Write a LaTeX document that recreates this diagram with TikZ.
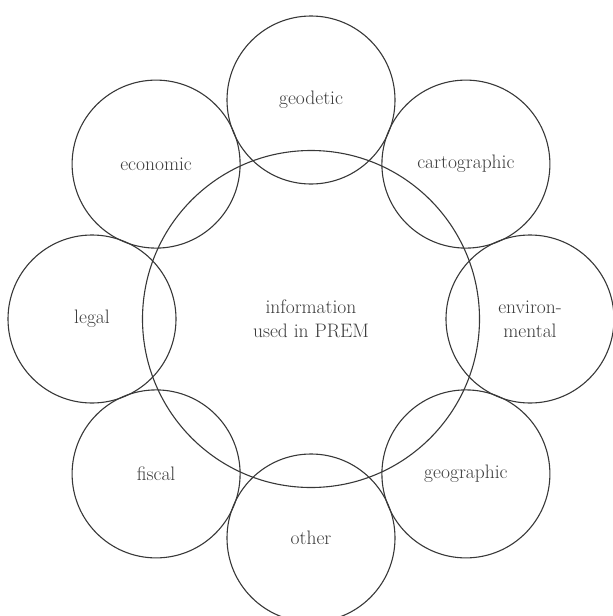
\documentclass[tikz,border=0pt]{standalone}
\usetikzlibrary{calc}
\definecolor{ink}{HTML}{383838}
\definecolor{txt}{HTML}{3C3C3C}
\begin{document}
\begin{tikzpicture}[x=1pt,y=-1pt,
  ring/.style={circle,draw=ink,line width=1.1pt,inner sep=0pt,text=txt,align=center,
    font=\fontsize{19.5}{24}\selectfont},
  big/.style={ring,minimum size=337pt},
  small/.style={ring,minimum size=168pt}]
\useasboundingbox (0,0) rectangle (613,616);
\coordinate (c) at (311,319);
\node[big] (prem) at (c) {information\\used in PREM};
\node[small] (geodetic) at ($(c)+(0,-219)$) {geodetic};
\node[small] (carto) at ($(c)+(154.9,-154.9)$) {cartographic};
\node[small] (env) at ($(c)+(219,0)$) {environ-\\mental};
\node[small] (geog) at ($(c)+(154.9,154.9)$) {geographic};
\node[small] (other) at ($(c)+(0,219)$) {other};
\node[small] (fiscal) at ($(c)+(-154.9,154.9)$) {fiscal};
\node[small] (legal) at ($(c)+(-219,0)$) {legal};
\node[small] (econ) at ($(c)+(-154.9,-154.9)$) {economic};
\end{tikzpicture}
\end{document}
